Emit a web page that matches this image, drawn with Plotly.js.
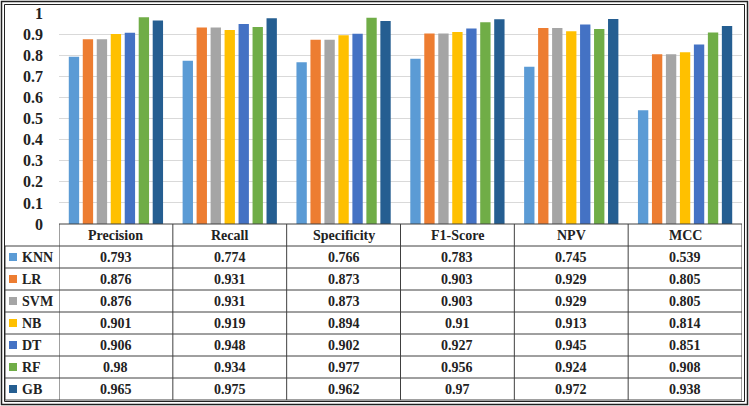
<!DOCTYPE html>
<html><head><meta charset="utf-8">
<script src="https://cdn.plot.ly/plotly-3.0.1.min.js"></script>
<style>html,body{margin:0;padding:0;background:#fff}#chart{width:749px;height:406px}</style>
</head><body><div id="chart"></div>
<script>
const categories = ['Precision','Recall','Specificity','F1-Score','NPV','MCC'];
const models = ['KNN','LR','SVM','NB','DT','RF','GB'];
const KNN = [0.793,0.774,0.766,0.783,0.745,0.539];
const LR  = [0.876,0.931,0.873,0.903,0.929,0.805];
const SVM = [0.876,0.931,0.873,0.903,0.929,0.805];
const NB  = [0.901,0.919,0.894,0.91,0.913,0.814];
const DT  = [0.906,0.948,0.902,0.927,0.945,0.851];
const RF  = [0.98,0.934,0.977,0.956,0.924,0.908];
const GB  = [0.965,0.975,0.962,0.97,0.972,0.938];
const yTicks = [0,0.1,0.2,0.3,0.4,0.5,0.6,0.7,0.8,0.9,1];
const yTickText = ['0','0.1','0.2','0.3','0.4','0.5','0.6','0.7','0.8','0.9','1'];

const seriesValues = [KNN,LR,SVM,NB,DT,RF,GB];
const colors = ['#5B9BD5','#ED7D31','#A5A5A5','#FFC000','#4472C4','#70AD47','#255E91'];

const W=749,H=406,ML=59,MR=7,MT=13,MB=182;
const PW=W-ML-MR, PH=H-MT-MB;
const px=x=>(x-ML)/PW;
const py=y=>(H-MB-y)/PH;

const FONT='Liberation Serif, Times New Roman, serif';
const traces = models.map((m,i)=>({
  type:'bar', name:m, x:categories, y:seriesValues[i],
  marker:{color:colors[i]}, hoverinfo:'skip'
}));

const shapes=[], annotations=[];
const lineC='#404040';
const rowH=22, top0=H-MB;
const nRows=models.length+1;
const bottom=top0+rowH*nRows;
// horizontal lines
for(let r=0;r<=nRows;r++){
  const yy=top0+rowH*r;
  shapes.push({type:'line',xref:'paper',yref:'paper',x0:r===0?px(ML):px(5),x1:px(W-MR),y0:py(yy),y1:py(yy),line:{color:lineC,width:1}});
}
// vertical lines
for(let c=0;c<=categories.length;c++){
  shapes.push({type:'line',xref:'x',yref:'paper',x0:c-0.5,x1:c-0.5,y0:py(top0),y1:py(bottom),line:{color:lineC,width:1}});
}
shapes.push({type:'line',xref:'paper',yref:'paper',x0:px(5),x1:px(5),y0:py(top0+rowH),y1:py(bottom),line:{color:lineC,width:1}});
// outer double border
shapes.push({type:'rect',xref:'paper',yref:'paper',x0:px(1.5),x1:px(747.5),y0:py(1.5),y1:py(404.5),line:{color:'#222',width:1.5}});
shapes.push({type:'rect',xref:'paper',yref:'paper',x0:px(4.5),x1:px(744.5),y0:py(4.5),y1:py(401.5),line:{color:'#222',width:1}});

// header
categories.forEach((c,i)=>{
  annotations.push({xref:'x',yref:'paper',x:i,y:py(top0+rowH/2),text:'<b>'+c+'</b>',showarrow:false,font:{family:FONT,size:14,color:'#222'},xanchor:'center',yanchor:'middle'});
});
// rows
models.forEach((m,r)=>{
  const cy=top0+rowH*(r+1)+rowH/2;
  shapes.push({type:'rect',xref:'paper',yref:'paper',x0:px(9),x1:px(17),y0:py(cy-4),y1:py(cy+4),fillcolor:colors[r],line:{width:0}});
  annotations.push({xref:'paper',yref:'paper',x:px(20),y:py(cy),text:'<b>'+m+'</b>',showarrow:false,font:{family:FONT,size:14,color:'#222'},xanchor:'left',yanchor:'middle'});
  seriesValues[r].forEach((v,i)=>{
    annotations.push({xref:'x',yref:'paper',x:i,y:py(cy),text:'<b>'+String(v)+'</b>',showarrow:false,font:{family:FONT,size:14,color:'#222'},xanchor:'center',yanchor:'middle'});
  });
});

const layout={
  width:W,height:H,margin:{l:ML,r:MR,t:MT,b:MB,pad:0},
  paper_bgcolor:'#fff',plot_bgcolor:'#fff',
  barmode:'group',bargap:0.14,bargroupgap:0.26,
  showlegend:false,
  xaxis:{type:'category',range:[-0.5,5.5],showticklabels:false,ticks:'',showgrid:false,zeroline:false,showline:false,fixedrange:true},
  yaxis:{range:[0,1],tickvals:yTicks,ticktext:yTickText,showgrid:true,gridcolor:'#D9D9D9',gridwidth:1,zeroline:false,showline:false,
    tickfont:{family:FONT,size:16,color:'#222',weight:'bold'},ticklabelstandoff:15,fixedrange:true},
  shapes:shapes,annotations:annotations,
  font:{family:FONT}
};
Plotly.newPlot('chart',traces,layout,{displayModeBar:false,staticPlot:true});
</script></body></html>
